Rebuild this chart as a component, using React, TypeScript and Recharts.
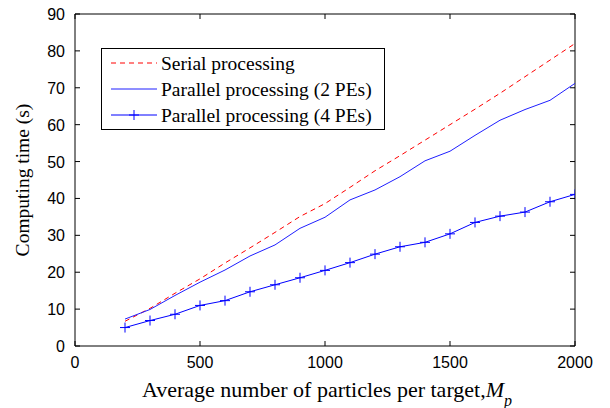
import React from 'react';
import { LineChart, Line, XAxis, YAxis, ReferenceLine, Legend, Label } from 'recharts';

const W = 610;
const H = 408;
const MARGIN = { top: 14, right: 35, bottom: 0, left: 0 };
const Y_AXIS_W = 75;
const X_AXIS_H = 62;
const PLOT_LEFT = MARGIN.left + Y_AXIS_W;
const PLOT_RIGHT = W - MARGIN.right;
const PLOT_TOP = MARGIN.top;
const PLOT_BOTTOM = H - MARGIN.bottom - X_AXIS_H;
const TICK_LEN = 5;

const SANS = '"Liberation Sans", Arial, sans-serif';
const SERIF = '"Liberation Serif", "Times New Roman", serif';

// Average number of particles per target
const particles = [200, 300, 400, 500, 600, 700, 800, 900, 1000, 1100, 1200, 1300, 1400, 1500, 1600, 1700, 1800, 1900, 2000];
// Computing time (s)
const serial = [6.7, 10.2, 14.3, 18.2, 22.5, 26.6, 30.8, 35.1, 38.6, 43.0, 47.5, 51.6, 55.8, 60.0, 64.2, 68.5, 73.0, 77.5, 82.0];
const parallel2 = [7.3, 9.9, 13.7, 17.3, 20.6, 24.4, 27.4, 31.9, 34.9, 39.6, 42.3, 45.9, 50.2, 52.8, 57.1, 61.2, 64.1, 66.6, 71.2];
const parallel4 = [5.0, 6.9, 8.6, 11.0, 12.3, 14.7, 16.6, 18.5, 20.5, 22.6, 24.9, 26.9, 28.1, 30.4, 33.5, 35.2, 36.3, 39.1, 41.1];

const xTicks = [0, 500, 1000, 1500, 2000];
const yTicks = [0, 10, 20, 30, 40, 50, 60, 70, 80, 90];

const seriesNames = ['Serial processing', 'Parallel processing (2 PEs)', 'Parallel processing (4 PEs)'];

const data = particles.map((p, i) => ({
  p,
  serial: serial[i],
  pe2: parallel2[i],
  pe4: parallel4[i],
}));

const RED = '#ff0000';
const BLUE2 = '#1f1fff';
const BLUE4 = '#0000ff';

const XTick = (props: any) => {
  const { x, y, payload } = props;
  return (
    <g>
      <line x1={x} x2={x} y1={PLOT_BOTTOM} y2={PLOT_BOTTOM - TICK_LEN} stroke="#000" strokeWidth={1} />
      <line x1={x} x2={x} y1={PLOT_TOP} y2={PLOT_TOP + TICK_LEN} stroke="#000" strokeWidth={1} />
      <text x={x} y={y + 22} textAnchor="middle" fontFamily={SANS} fontSize={16} fill="#000">
        {payload.value}
      </text>
    </g>
  );
};

const YTick = (props: any) => {
  const { x, y, payload } = props;
  return (
    <g>
      <line x1={PLOT_LEFT} x2={PLOT_LEFT + TICK_LEN} y1={y} y2={y} stroke="#000" strokeWidth={1} />
      <line x1={PLOT_RIGHT} x2={PLOT_RIGHT - TICK_LEN} y1={y} y2={y} stroke="#000" strokeWidth={1} />
      <text x={x - 10} y={y + 6} textAnchor="end" fontFamily={SANS} fontSize={16} fill="#000">
        {payload.value}
      </text>
    </g>
  );
};

const PlusDot = (props: any) => {
  const { cx, cy } = props;
  if (cx == null || cy == null) return <g />;
  return (
    <g>
      <line x1={cx - 5} x2={cx + 5} y1={cy} y2={cy} stroke={BLUE4} strokeWidth={1} />
      <line x1={cx} x2={cx} y1={cy - 5} y2={cy + 5} stroke={BLUE4} strokeWidth={1} />
    </g>
  );
};

const XTitle = () => (
  <text x={(PLOT_LEFT + PLOT_RIGHT) / 2 + 2} y={397} textAnchor="middle" fontFamily={SERIF} fontSize={22} fill="#000">
    Average number of particles per target,
    <tspan fontStyle="italic">M</tspan>
    <tspan fontStyle="italic" fontSize={16} dy={9}>p</tspan>
  </text>
);

const YTitle = () => (
  <text
    x={29}
    y={(PLOT_TOP + PLOT_BOTTOM) / 2}
    transform={`rotate(-90 29 ${(PLOT_TOP + PLOT_BOTTOM) / 2})`}
    textAnchor="middle"
    fontFamily={SERIF}
    fontSize={19.5}
    fill="#000"
  >
    Computing time (s)
  </text>
);

const LEG_W = 284;
const LEG_H = 82;
const legendRows = [
  { name: seriesNames[0], color: RED, dash: '5 4', marker: false, y: 15 },
  { name: seriesNames[1], color: BLUE2, dash: undefined, marker: false, y: 41 },
  { name: seriesNames[2], color: BLUE4, dash: undefined, marker: true, y: 67 },
];

const LegendBox = () => (
  <svg width={LEG_W} height={LEG_H} style={{ display: 'block' }}>
    <rect x={0.5} y={0.5} width={LEG_W - 1} height={LEG_H - 1} fill="#fff" stroke="#000" strokeWidth={1} />
    {legendRows.map((r) => (
      <g key={r.name}>
        <line x1={10} x2={56} y1={r.y} y2={r.y} stroke={r.color} strokeWidth={1} strokeDasharray={r.dash} />
        {r.marker && (
          <g>
            <line x1={28} x2={38} y1={r.y} y2={r.y} stroke={r.color} strokeWidth={1} />
            <line x1={33} x2={33} y1={r.y - 5} y2={r.y + 5} stroke={r.color} strokeWidth={1} />
          </g>
        )}
        <text x={60} y={r.y + 7} fontFamily={SERIF} fontSize={19.5} fill="#000">
          {r.name}
        </text>
      </g>
    ))}
  </svg>
);

export default function App() {
  return (
    <div style={{ position: 'absolute', left: 0, top: 0, width: W, height: H, background: '#fff' }}>
      <LineChart width={W} height={H} data={data} margin={MARGIN}>
        <XAxis
          dataKey="p"
          type="number"
          domain={[0, 2000]}
          ticks={xTicks}
          interval={0}
          height={X_AXIS_H}
          tickSize={0}
          tickMargin={0}
          tickLine={false}
          axisLine={{ stroke: '#000', strokeWidth: 1 }}
          tick={XTick}
          allowDataOverflow
        >
          <Label content={XTitle} />
        </XAxis>
        <YAxis
          type="number"
          domain={[0, 90]}
          ticks={yTicks}
          interval={0}
          width={Y_AXIS_W}
          tickSize={0}
          tickMargin={0}
          tickLine={false}
          axisLine={{ stroke: '#000', strokeWidth: 1 }}
          tick={YTick}
          allowDataOverflow
        >
          <Label content={YTitle} />
        </YAxis>
        <ReferenceLine y={90} stroke="#000" strokeWidth={1} />
        <ReferenceLine x={2000} stroke="#000" strokeWidth={1} />
        <Legend
          layout="vertical"
          align="center"
          verticalAlign="middle"
          wrapperStyle={{ left: 101, top: 48, width: LEG_W, height: LEG_H }}
          content={() => <LegendBox />}
        />
        <Line
          name={seriesNames[0]}
          dataKey="serial"
          stroke={RED}
          strokeWidth={1}
          strokeDasharray="5 4"
          dot={false}
          activeDot={false}
          isAnimationActive={false}
        />
        <Line
          name={seriesNames[1]}
          dataKey="pe2"
          stroke={BLUE2}
          strokeWidth={1}
          dot={false}
          activeDot={false}
          isAnimationActive={false}
        />
        <Line
          name={seriesNames[2]}
          dataKey="pe4"
          stroke={BLUE4}
          strokeWidth={1}
          dot={PlusDot}
          activeDot={false}
          isAnimationActive={false}
        />
      </LineChart>
    </div>
  );
}
